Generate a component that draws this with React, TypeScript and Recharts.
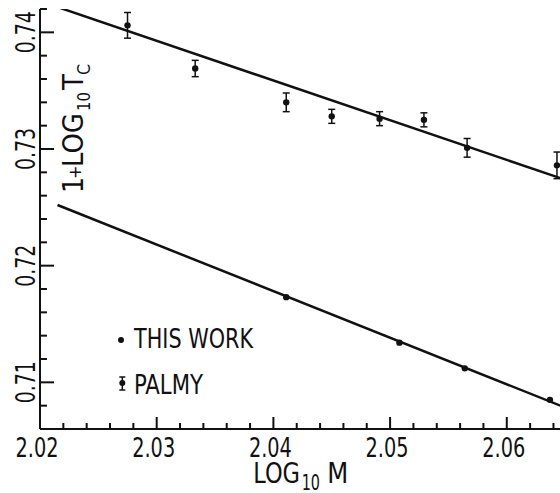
import React from "react";
import { ScatterChart, Scatter, XAxis, YAxis, ErrorBar } from "recharts";

// Palmy's points (upper line) with error bars
const palmyX = [2.0275, 2.0333, 2.0411, 2.045, 2.0491, 2.0529, 2.0566, 2.0643];
const palmyY = [0.7406, 0.7369, 0.734, 0.7328, 0.7326, 0.7325, 0.7301, 0.7286];
const palmyErr = [0.0011, 0.0007, 0.0008, 0.0006, 0.0006, 0.0006, 0.0008, 0.00114];

// this work (lower line)
const workX = [2.0411, 2.0508, 2.0564, 2.0637];
const workY = [0.7173, 0.7134, 0.7112, 0.7085];

// fitted straight lines, end points
const upperFitX = [2.0217, 2.0646];
const upperFitY = [0.7421, 0.7275];
const lowerFitX = [2.0215, 2.0646];
const lowerFitY = [0.7252, 0.708];

const xTicks = [2.02, 2.022, 2.024, 2.026, 2.028, 2.03, 2.032, 2.034, 2.036, 2.038, 2.04, 2.042, 2.044,
  2.046, 2.048, 2.05, 2.052, 2.054, 2.056, 2.058, 2.06, 2.062, 2.064];
const yTicks = [0.706, 0.708, 0.71, 0.712, 0.714, 0.716, 0.718, 0.72, 0.722, 0.724, 0.726, 0.728, 0.73,
  0.732, 0.734, 0.736, 0.738, 0.74, 0.742];

const palmy = palmyX.map((x, i) => ({ x, y: palmyY[i], err: palmyErr[i] }));
const work = workX.map((x, i) => ({ x, y: workY[i] }));
const upperFit = upperFitX.map((x, i) => ({ x, y: upperFitY[i] }));
const lowerFit = lowerFitX.map((x, i) => ({ x, y: lowerFitY[i] }));

const INK = "#111";
const FONT = "'Liberation Sans Narrow', 'DejaVu Sans Condensed', 'Liberation Sans', sans-serif";
const isMajor = (v: number) => Math.abs(v * 100 - Math.round(v * 100)) < 1e-6;

const XTick = (p: any) => {
  const v = p.payload.value;
  const major = isMajor(v);
  return (
    <g>
      <line x1={p.x} x2={p.x} y1={p.y} y2={p.y - (major ? 12 : 6)} stroke={INK} strokeWidth={2} />
      {major && (
        <text x={p.x - 3} y={p.y + 28} textAnchor="middle" fontFamily={FONT} fontSize={27}
          textLength={43} lengthAdjust="spacingAndGlyphs" fill={INK}>{v.toFixed(2)}</text>
      )}
    </g>
  );
};

const YTick = (p: any) => {
  const v = p.payload.value;
  const major = isMajor(v);
  return (
    <g>
      <line x1={p.x} x2={p.x + (major ? 14 : 7)} y1={p.y} y2={p.y} stroke={INK} strokeWidth={2} />
      {major && (
        <text x={35} y={p.y} transform={`rotate(-90, 35, ${p.y})`} textAnchor="middle" fontFamily={FONT}
          fontSize={26} textLength={42} lengthAdjust="spacingAndGlyphs" fill={INK}>{v.toFixed(2)}</text>
      )}
    </g>
  );
};

const dot = (p: any) => <circle cx={p.cx} cy={p.cy} r={3.2} fill={INK} />;
const none = () => <g />;

function Overlay() {
  const t = { fontFamily: FONT, fill: INK } as const;
  return (
    <svg width={560} height={493} style={{ position: "absolute", left: 0, top: 0, pointerEvents: "none" }}>
      {/* legend */}
      <circle cx={121} cy={340} r={3} fill={INK} />
      <text x={134} y={348} fontSize={26} textLength={119} lengthAdjust="spacingAndGlyphs" {...t}>THIS WORK</text>
      <line x1={122.3} x2={122.3} y1={377} y2={390} stroke={INK} strokeWidth={1.5} />
      <line x1={119.3} x2={125.3} y1={377} y2={377} stroke={INK} strokeWidth={1.5} />
      <line x1={119.3} x2={125.3} y1={390} y2={390} stroke={INK} strokeWidth={1.5} />
      <circle cx={122.3} cy={383} r={3} fill={INK} />
      <text x={134} y={394} fontSize={26} textLength={69} lengthAdjust="spacingAndGlyphs" {...t}>PALMY</text>

      {/* x title */}
      <text {...t}>
        <tspan x={253.3} y={483} fontSize={28} textLength={46.7} lengthAdjust="spacingAndGlyphs">LOG</tspan>
        <tspan x={301.7} y={489.5} fontSize={22} textLength={18.3} lengthAdjust="spacingAndGlyphs">10</tspan>
        <tspan x={327.3} y={483} fontSize={28} textLength={21} lengthAdjust="spacingAndGlyphs">M</tspan>
      </text>

      {/* y title, rotated */}
      <text transform="rotate(-90)" {...t}>
        <tspan x={-193} y={83} fontSize={28}>1</tspan>
        <tspan x={-179} y={81} fontSize={18}>+</tspan>
        <tspan x={-167} y={83} fontSize={28} textLength={54} lengthAdjust="spacingAndGlyphs">LOG</tspan>
        <tspan x={-111} y={90} fontSize={18} textLength={19} lengthAdjust="spacingAndGlyphs">10</tspan>
        <tspan x={-90} y={83} fontSize={28} textLength={16} lengthAdjust="spacingAndGlyphs">T</tspan>
        <tspan x={-75} y={90} fontSize={18} textLength={11} lengthAdjust="spacingAndGlyphs">C</tspan>
      </text>
    </svg>
  );
}

export default function App() {
  return (
    <div style={{ position: "absolute", left: 0, top: 0, width: 560, height: 493, background: "#fff" }}>
      <ScatterChart width={560} height={493} margin={{ top: 9, right: 0, left: 0, bottom: 0 }}>
        <XAxis type="number" dataKey="x" domain={[2.02, 2.06456]} allowDataOverflow ticks={xTicks} interval={0}
          tick={XTick} tickLine={false} tickSize={0} tickMargin={0} height={64}
          axisLine={{ stroke: INK, strokeWidth: 2 }} />
        <YAxis type="number" dataKey="y" domain={[0.706, 0.742]} allowDataOverflow ticks={yTicks} interval={0}
          tick={YTick} tickLine={false} tickSize={0} tickMargin={0} width={40}
          axisLine={{ stroke: INK, strokeWidth: 2 }} />
        <Scatter data={upperFit} line={{ stroke: INK, strokeWidth: 2.5 }} shape={none} isAnimationActive={false} />
        <Scatter data={lowerFit} line={{ stroke: INK, strokeWidth: 2.5 }} shape={none} isAnimationActive={false} />
        <Scatter data={palmy} shape={dot} isAnimationActive={false}>
          <ErrorBar dataKey="err" direction="y" width={3.5} stroke={INK} strokeWidth={1.5} isAnimationActive={false} />
        </Scatter>
        <Scatter data={work} shape={dot} isAnimationActive={false} />
      </ScatterChart>
      <Overlay />
    </div>
  );
}
